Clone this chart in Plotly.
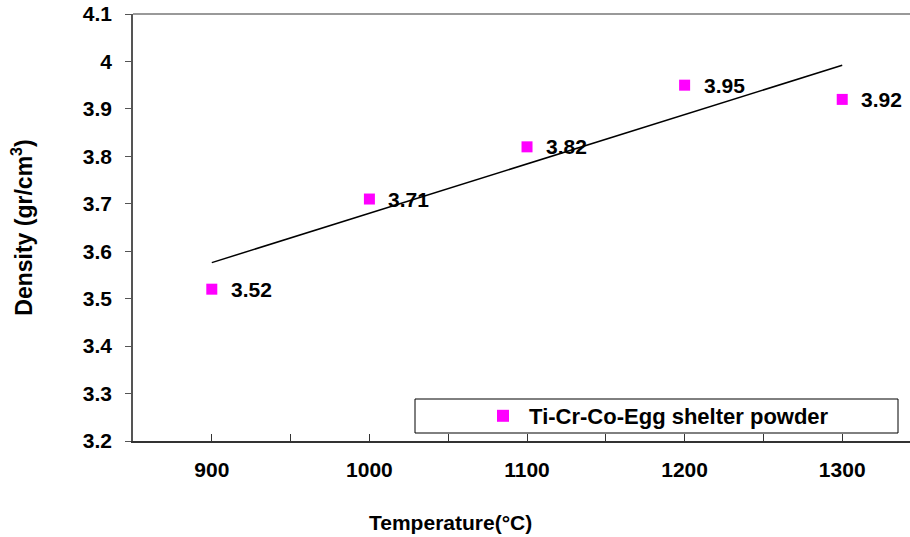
import numpy as np
import plotly.graph_objects as go

temperature = [900, 1000, 1100, 1200, 1300]
density = [3.52, 3.71, 3.82, 3.95, 3.92]
x_tick_vals = [900, 1000, 1100, 1200, 1300]
x_tick_text = ["900", "1000", "1100", "1200", "1300"]
y_tick_vals = [3.2, 3.3, 3.4, 3.5, 3.6, 3.7, 3.8, 3.9, 4.0, 4.1]
y_tick_text = ["3.2", "3.3", "3.4", "3.5", "3.6", "3.7", "3.8", "3.9", "4", "4.1"]
series_name = "Ti-Cr-Co-Egg shelter powder"

slope, intercept = np.polyfit(temperature, density, 1)
trend_x = [temperature[0], temperature[-1]]
trend_y = [slope * v + intercept for v in trend_x]

FONT = "Arial, Liberation Sans, sans-serif"
W, H = 910, 537
L, T, B, R = 133, 14, 96, 0
FS = 21

fig = go.Figure()
fig.add_trace(go.Scatter(x=trend_x, y=trend_y, mode="lines",
                         line=dict(color="black", width=1.5), showlegend=False,
                         hoverinfo="skip"))
fig.add_trace(go.Scatter(x=temperature, y=density, mode="markers",
                         name=f"<b> {series_name}</b>",
                         marker=dict(symbol="square", size=11, color="#FF00FF")))

for xv, yv in zip(temperature, density):
    fig.add_annotation(x=xv, y=yv, text=f"<b>{yv:g}</b>", showarrow=False,
                       xanchor="left", yanchor="middle", xshift=17,
                       font=dict(family=FONT, size=FS, color="black"))

def px2x(px):
    return (px - L) / (W - L - R)

def px2y(py):
    return 1 - (py - T) / (H - T - B)

# legend box
fig.add_shape(type="rect", xref="paper", yref="paper",
              x0=px2x(415), x1=px2x(898), y0=px2y(433), y1=px2y(399),
              line=dict(color="black", width=1), fillcolor="white", layer="above")

fig.add_annotation(xref="paper", yref="paper", x=px2x(450), y=px2y(522),
                   text="<b>Temperature(°C)</b>", showarrow=False,
                   xanchor="center", yanchor="middle",
                   font=dict(family=FONT, size=FS, color="black"))

fig.update_layout(
    width=W, height=H,
    margin=dict(l=L, r=R, t=T, b=B, pad=0),
    paper_bgcolor="white", plot_bgcolor="white",
    font=dict(family=FONT, size=FS, color="black"),
    showlegend=True,
    legend=dict(x=px2x(483), y=px2y(416), xanchor="left", yanchor="middle",
                bgcolor="rgba(0,0,0,0)", borderwidth=0,
                font=dict(family=FONT, size=22, color="black"),
                itemsizing="constant"),
    xaxis=dict(range=[850, 1343], tickmode="array", tickvals=x_tick_vals,
               ticktext=[f"<b>{t}</b>" for t in x_tick_text],
               ticks="inside", ticklen=7, tickcolor="#333333", tickwidth=1,
               minor=dict(dtick=50, tick0=900, ticks="inside", ticklen=7,
                          tickcolor="#333333", tickwidth=1, showgrid=False),
               showline=True, linecolor="#333333", linewidth=1.5, mirror=False,
               showgrid=False, zeroline=False, ticklabelstandoff=9,
               tickfont=dict(family=FONT, size=FS, color="black")),
    yaxis=dict(range=[3.2, 4.1], tickmode="array", tickvals=y_tick_vals,
               ticktext=[f"<b>{t}</b>" for t in y_tick_text],
               ticks="outside", ticklen=6, tickcolor="#555555", tickwidth=1,
               showline=True, linecolor="#555555", linewidth=1.5,
               showgrid=False, zeroline=False, ticklabelstandoff=9,
               title=dict(text="<b>Density (gr/cm<sup>3</sup>)</b>", standoff=44,
                          font=dict(family=FONT, size=23, color="black")),
               tickfont=dict(family=FONT, size=FS, color="black")),
)
# top border line
fig.add_shape(type="line", xref="paper", yref="paper", x0=0, x1=1, y0=1, y1=1,
              line=dict(color="#777777", width=1.5))

fig.write_html("out.html")
